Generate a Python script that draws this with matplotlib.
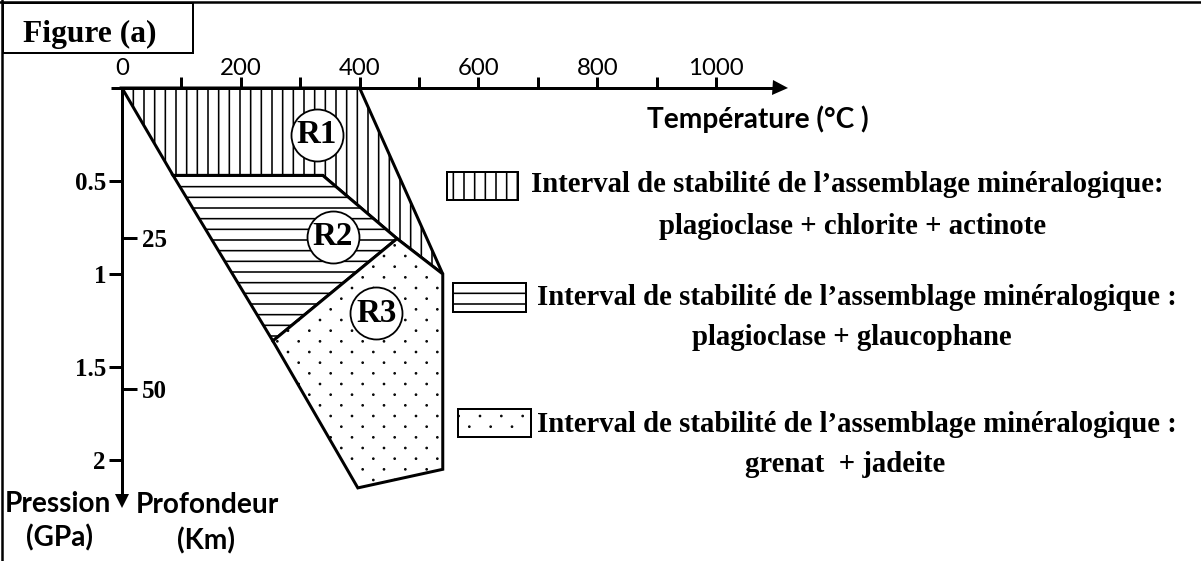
import numpy as np
import matplotlib
matplotlib.use("Agg")
import matplotlib.pyplot as plt
import matplotlib.hatch as mhatch
from matplotlib.patches import Polygon, Rectangle
from matplotlib.lines import Line2D

# ---------------- data ----------------
temp_labels_at = [0, 200, 400, 600, 800, 1000]
temp_marks_at = [100, 200, 300, 400, 500, 600, 700, 800, 900, 1000]
pressure_ticks = [0.5, 1.0, 1.5, 2.0]
pressure_labels = ["0.5", "1", "1.5", "2"]
depth_ticks = [25, 50]
depth_labels = ["25", "50"]
km_per_gpa = 30.9

r1_temp = [0, 400, 540, 463, 338, 86]
r1_pres = [0, 0, 1.00, 0.81, 0.47, 0.47]
r2_temp = [86, 338, 463, 254]
r2_pres = [0.47, 0.47, 0.81, 1.36]
r3_temp = [254, 463, 540, 540, 397]
r3_pres = [1.36, 0.81, 1.00, 2.05, 2.15]

region_names = ["R1", "R2", "R3"]
region_label_temp = [328, 355, 428]
region_label_pres = [0.25, 0.80, 1.21]

legend_titles = [
    "Interval de stabilité de l’assemblage minéralogique:",
    "Interval de stabilité de l’assemblage minéralogique :",
    "Interval de stabilité de l’assemblage minéralogique :",
]
legend_minerals = [
    "plagioclase + chlorite + actinote",
    "plagioclase + glaucophane",
    "grenat  + jadeite",
]

# ---------------- style / layout ----------------
W, H, DPI = 1201, 561, 64
PT = 72.0 / DPI


def fs(px):
    return px * PT


SERIF = ["Liberation Serif", "DejaVu Serif"]
SANS = ["Lato", "DejaVu Sans"]
region_hatches = ["|", "-", "."]


class SparseDots(mhatch.Circles):
    """Staggered dot texture (every other column per row)."""
    size = 0.05
    filled = True

    def __init__(self, hatch, density):
        self.num_rows = hatch.count('.') * density
        super().__init__(hatch, density)
        if self.num_rows:
            half = self.num_rows // 2
            self.num_shapes = (half + 1) ** 2 + half ** 2
            self.num_vertices = self.num_shapes * len(self.shape_vertices)

    def set_vertices_and_codes(self, vertices, codes):
        n = self.num_rows
        step = 1.0 / n
        shape = self.shape_vertices * step * self.size
        vparts, cparts = [], []
        for row in range(n + 1):
            if row % 2 == 0:
                cols = np.linspace(0, 1, n // 2 + 1)
            else:
                cols = np.linspace(step, 1 - step, n // 2)
            for c in cols:
                vparts.append(shape + [c, row * step])
                cparts.append(self.shape_codes)
        np.concatenate(vparts, out=vertices)
        np.concatenate(cparts, out=codes)


mhatch._hatch_types = [SparseDots if t is mhatch.SmallFilledCircles else t
                       for t in mhatch._hatch_types]

plt.rcParams["hatch.linewidth"] = fs(1.6)
plt.rcParams["font.family"] = SERIF

fig = plt.figure(figsize=(W / DPI, H / DPI), dpi=DPI, facecolor="white")
ax = fig.add_axes([0, 0, 1, 1])
ax.set_facecolor("white")

# pixel layout: x = 122 + 0.594*T ; y = 88 + 186*P
x0, xs = 122, 0.594
y0, ys = 88, 186
ax.set_xlim(-x0 / xs, (W - x0) / xs)
ax.set_ylim((H - y0) / ys, -y0 / ys)

# ---- regions ----
for temps, pres, hatch in zip([r1_temp, r2_temp, r3_temp],
                              [r1_pres, r2_pres, r3_pres], region_hatches):
    ax.add_patch(Polygon(np.column_stack([temps, pres]), closed=True,
                         facecolor="white", edgecolor="black", lw=fs(3),
                         hatch=hatch, joinstyle="miter", zorder=2))

ax.scatter(region_label_temp, region_label_pres, s=fs(52) ** 2, marker="o",
           facecolor="white", edgecolor="black", linewidths=fs(1.8), zorder=4)
for name, t, p in zip(region_names, region_label_temp, region_label_pres):
    ax.text(t, p, name, ha="center", va="center", fontsize=fs(33),
            fontweight="bold", family=SERIF, zorder=5)

# ---- axes ----
ax.spines[["right", "bottom"]].set_visible(False)
ax.spines["top"].set_position(("data", 0))
ax.spines["top"].set_bounds(-19, 1105)
ax.spines["left"].set_position(("data", 0))
ax.spines["left"].set_bounds(0, 2.2)
for s in ["top", "left"]:
    ax.spines[s].set_linewidth(fs(3))
    ax.spines[s].set_capstyle("butt")

ax.xaxis.set_ticks_position("top")
ax.xaxis.remove_overlapping_locs = False
ax.set_xticks(temp_labels_at, labels=[str(v) for v in temp_labels_at],
              fontfamily=SANS, fontsize=fs(24))
ax.set_xticks(temp_marks_at, minor=True)
ax.tick_params(axis="x", which="major", length=0, pad=fs(9), top=True,
               bottom=False, labeltop=True, labelbottom=False)
ax.tick_params(axis="x", which="minor", direction="out", length=fs(11),
               width=fs(3), top=True, bottom=False)

ax.set_yticks(pressure_ticks, labels=pressure_labels, fontfamily=SERIF,
              fontweight="bold", fontsize=fs(25))
ax.tick_params(axis="y", which="major", direction="out", length=fs(13),
               width=fs(3), pad=fs(3), left=True, right=False)
ax.yaxis.set_minor_locator(matplotlib.ticker.NullLocator())

xmin, xmax = ax.get_xlim()
loc = (0 - xmin) / (xmax - xmin)
sec = ax.secondary_yaxis(loc, functions=(lambda p: p * km_per_gpa,
                                         lambda k: k / km_per_gpa))
sec.set_alignment("right")
for sp in sec.spines.values():
    sp.set_visible(False)
sec.set_ticks(depth_ticks, labels=depth_labels, fontfamily=SERIF,
              fontweight="bold", fontsize=fs(25))
sec.tick_params(axis="y", which="major", direction="out", length=fs(15),
                width=fs(3), pad=fs(5))
sec.yaxis.set_minor_locator(matplotlib.ticker.NullLocator())

# axis arrow heads
ax.plot([1108.5], [0], marker=">", ms=fs(15), mew=0, color="black",
        linestyle="none", clip_on=False, zorder=6)
ax.plot([0], [2.218], marker="v", ms=fs(14), mew=0, color="black",
        linestyle="none", clip_on=False, zorder=6)


def fp(x, y):
    return x / W, 1 - y / H


# axis titles
LBL = fs(28)
fig.text(*fp(758, 128), "Température (°C )", ha="center", va="baseline",
         family=SANS, fontweight="bold", fontsize=LBL)
fig.text(*fp(58, 512), "Pression", ha="center", va="baseline",
         family=SANS, fontweight="bold", fontsize=LBL)
fig.text(*fp(59, 546), "(GPa)", ha="center", va="baseline",
         family=SANS, fontweight="bold", fontsize=LBL)
fig.text(*fp(207, 513), "Profondeur", ha="center", va="baseline",
         family=SANS, fontweight="bold", fontsize=LBL)
fig.text(*fp(206, 549), "(Km)", ha="center", va="baseline",
         family=SANS, fontweight="bold", fontsize=LBL)

# legend
legend_boxes = [(447, 172, 518, 200), (453, 283, 526, 312), (458, 409, 531, 437)]
title_pos = [(531, 192), (537, 305), (537, 432)]
mineral_pos = [(853, 234), (852, 345), (845, 472)]
for (bx0, by0, bx1, by1), hatch, title, tpos, mineral, mpos in zip(
        legend_boxes, region_hatches, legend_titles, title_pos,
        legend_minerals, mineral_pos):
    fig.add_artist(Rectangle(fp(bx0, by1), (bx1 - bx0) / W, (by1 - by0) / H,
                             transform=fig.transFigure, facecolor="white",
                             edgecolor="black", lw=fs(2), hatch=hatch))
    fig.text(*fp(*tpos), title, ha="left", va="baseline", family=SERIF,
             fontweight="bold", fontsize=fs(28.8))
    fig.text(*fp(*mpos), mineral, ha="center", va="baseline", family=SERIF,
             fontweight="bold", fontsize=fs(28.8))

# title box and frame
fig.add_artist(Rectangle(fp(3, 53), 190 / W, 50 / H, transform=fig.transFigure,
                         facecolor="white", edgecolor="black", lw=fs(2)))
fig.text(*fp(90, 42), "Figure (a)", ha="center", va="baseline", family=SERIF,
         fontweight="bold", fontsize=fs(31.5))
fig.add_artist(Line2D([0, 1], [1 - 2 / H] * 2, transform=fig.transFigure,
                      lw=fs(2.5), color="black"))
fig.add_artist(Line2D([2 / W] * 2, [0, 1], transform=fig.transFigure,
                      lw=fs(2.5), color="black"))

fig.savefig("out.png", dpi=DPI, facecolor="white")
